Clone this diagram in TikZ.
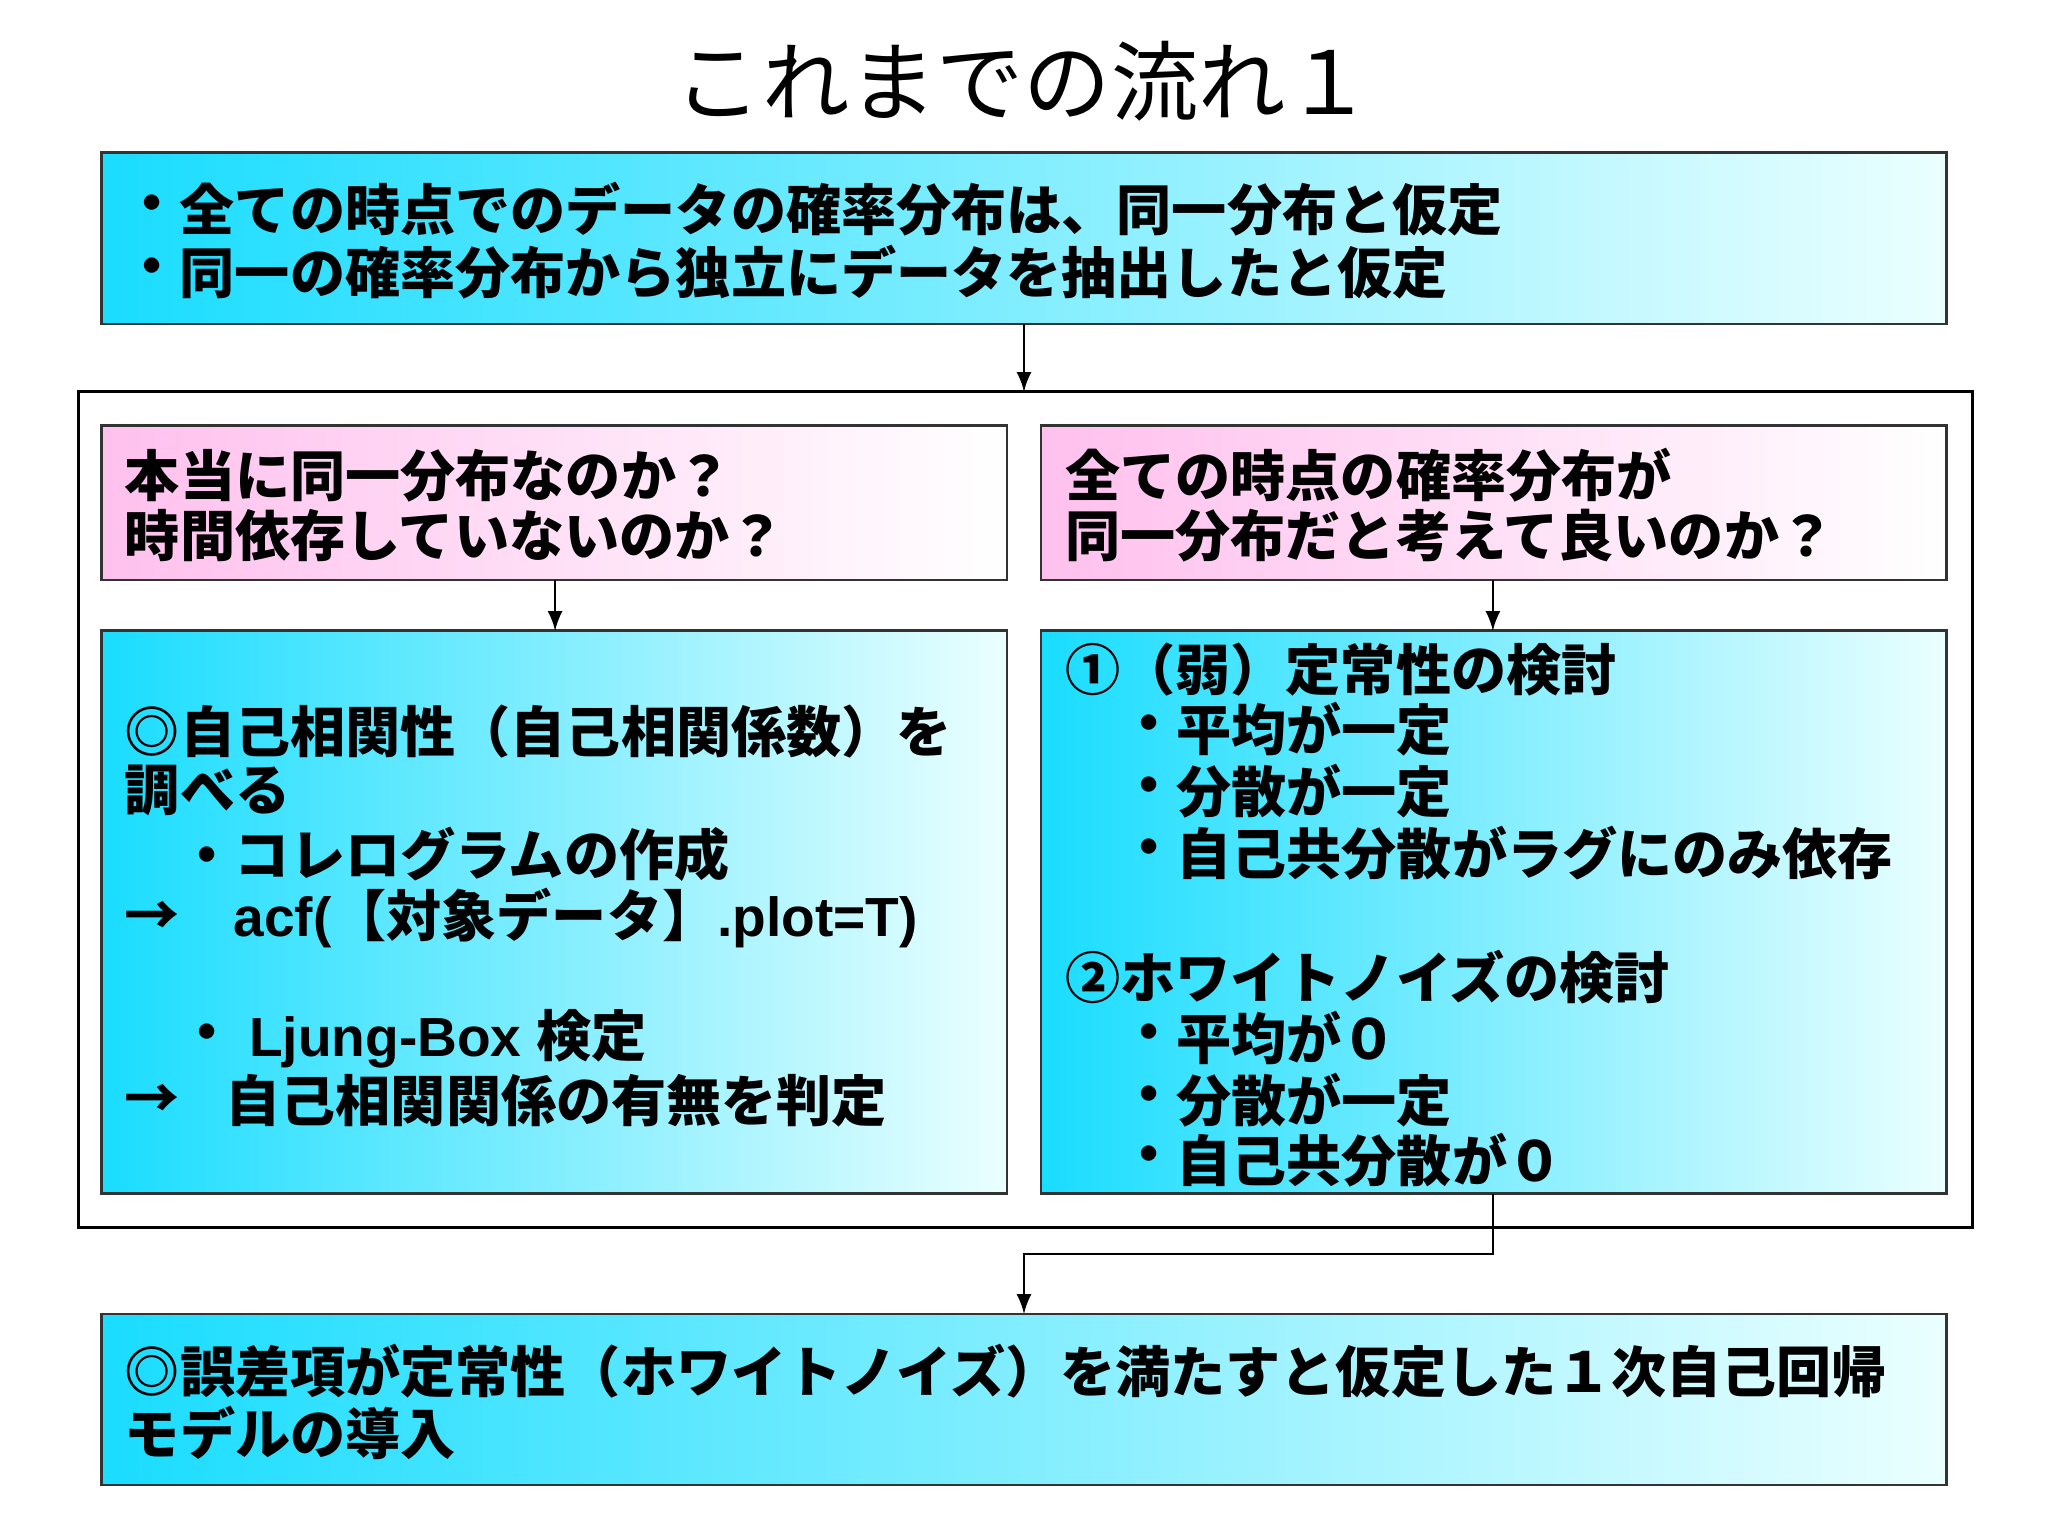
\documentclass[tikz,border=0pt]{standalone}
\usepackage{fontspec}
\setmainfont{Noto Sans CJK JP}
\newfontfamily\lat{Liberation Sans}
\begin{document}
\begin{tikzpicture}[x=0.01cm,y=-0.01cm,
  bluebox/.style={draw=black!80,line width=0.6pt,left color=cyan!85!blue!90!white,right color=cyan!8!white},
  pinkbox/.style={draw=black!80,line width=0.6pt,left color=pink!60!magenta!45!white,right color=white},
  tx/.style={anchor=west,inner sep=0pt,font=\fontsize{12}{14}\selectfont\bfseries},
  arr/.style={-latex,line width=0.5pt}]
\useasboundingbox (0,0) rectangle (1568,1176);
\node[anchor=center,font=\fontsize{19}{22}\selectfont] (title) at (784,62) {これまでの流れ１};
% boxes
\draw[bluebox] (78,117) rectangle (1490,248);
\coordinate (topb) at (784,248);
\draw[line width=0.6pt] (60,300) rectangle (1510,940);
\coordinate (outt) at (784,300);
\draw[pinkbox] (78,326) rectangle (771,444);
\draw[pinkbox] (797,326) rectangle (1490,444);
\draw[bluebox] (78,483) rectangle (771,914);
\draw[bluebox] (797,483) rectangle (1490,914);
\draw[bluebox] (78,1006) rectangle (1490,1137);
\coordinate (lp) at (425,444); \coordinate (lb) at (425,483);
\coordinate (rp) at (1143,444); \coordinate (rb) at (1143,483);
\coordinate (rbb) at (1143,914); \coordinate (bt) at (784,1006);
\draw[arr] (topb) -- (outt);
\draw[arr] (lp) -- (lb);
\draw[arr] (rp) -- (rb);
\draw[arr] (rbb) -- (1143,960) -- (784,960) -- (bt);
% top text
\node[tx] (t1a) at (95,160) {・};
\node[tx] (t1) at (137,160) {全ての時点でのデータの確率分布は、同一分布と仮定};
\node[tx] (t2a) at (95,208) {・};
\node[tx] (t2) at (137,208) {同一の確率分布から独立にデータを抽出したと仮定};
% pink
\node[tx] (p1) at (95,364) {本当に同一分布なのか？};
\node[tx] (p2) at (95,410) {時間依存していないのか？};
\node[tx] (p3) at (815,364) {全ての時点の確率分布が};
\node[tx] (p4) at (815,410) {同一分布だと考えて良いのか？};
% left blue
\node[tx] (l1) at (95,560) {◎自己相関性（自己相関係数）を};
\node[tx] (l2) at (95,605) {調べる};
\node[tx] (l3) at (137,654) {・コレログラムの作成};
\node[tx] (l4a) at (95,703) {→};
\node[tx] (l4) at (178,703) {{\lat acf(}【対象データ】{\lat .plot=T)}};
\node[tx] (l5a) at (137,795) {・};
\node[tx] (l5) at (190,795) {{\lat Ljung-Box }検定};
\node[tx] (l6a) at (95,843) {→};
\node[tx] (l6) at (172,843) {自己相関関係の有無を判定};
% right blue
\node[tx] (r1) at (815,513) {①（弱）定常性の検討};
\foreach \y/\t [count=\i] in {558/平均が一定,606/分散が一定,653/自己共分散がラグにのみ依存,795/平均が０,842/分散が一定,888/自己共分散が０}{
  \node[tx] (rd\i) at (858,\y) {・};
  \node[tx] (rt\i) at (900,\y) {\t};
}
\node[tx] (r2) at (815,748) {②ホワイトノイズの検討};
% bottom
\node[tx] (b1) at (95,1050) {◎誤差項が定常性（ホワイトノイズ）を満たすと仮定した１次自己回帰};
\node[tx] (b2) at (95,1097) {モデルの導入};
\end{tikzpicture}
\end{document}
